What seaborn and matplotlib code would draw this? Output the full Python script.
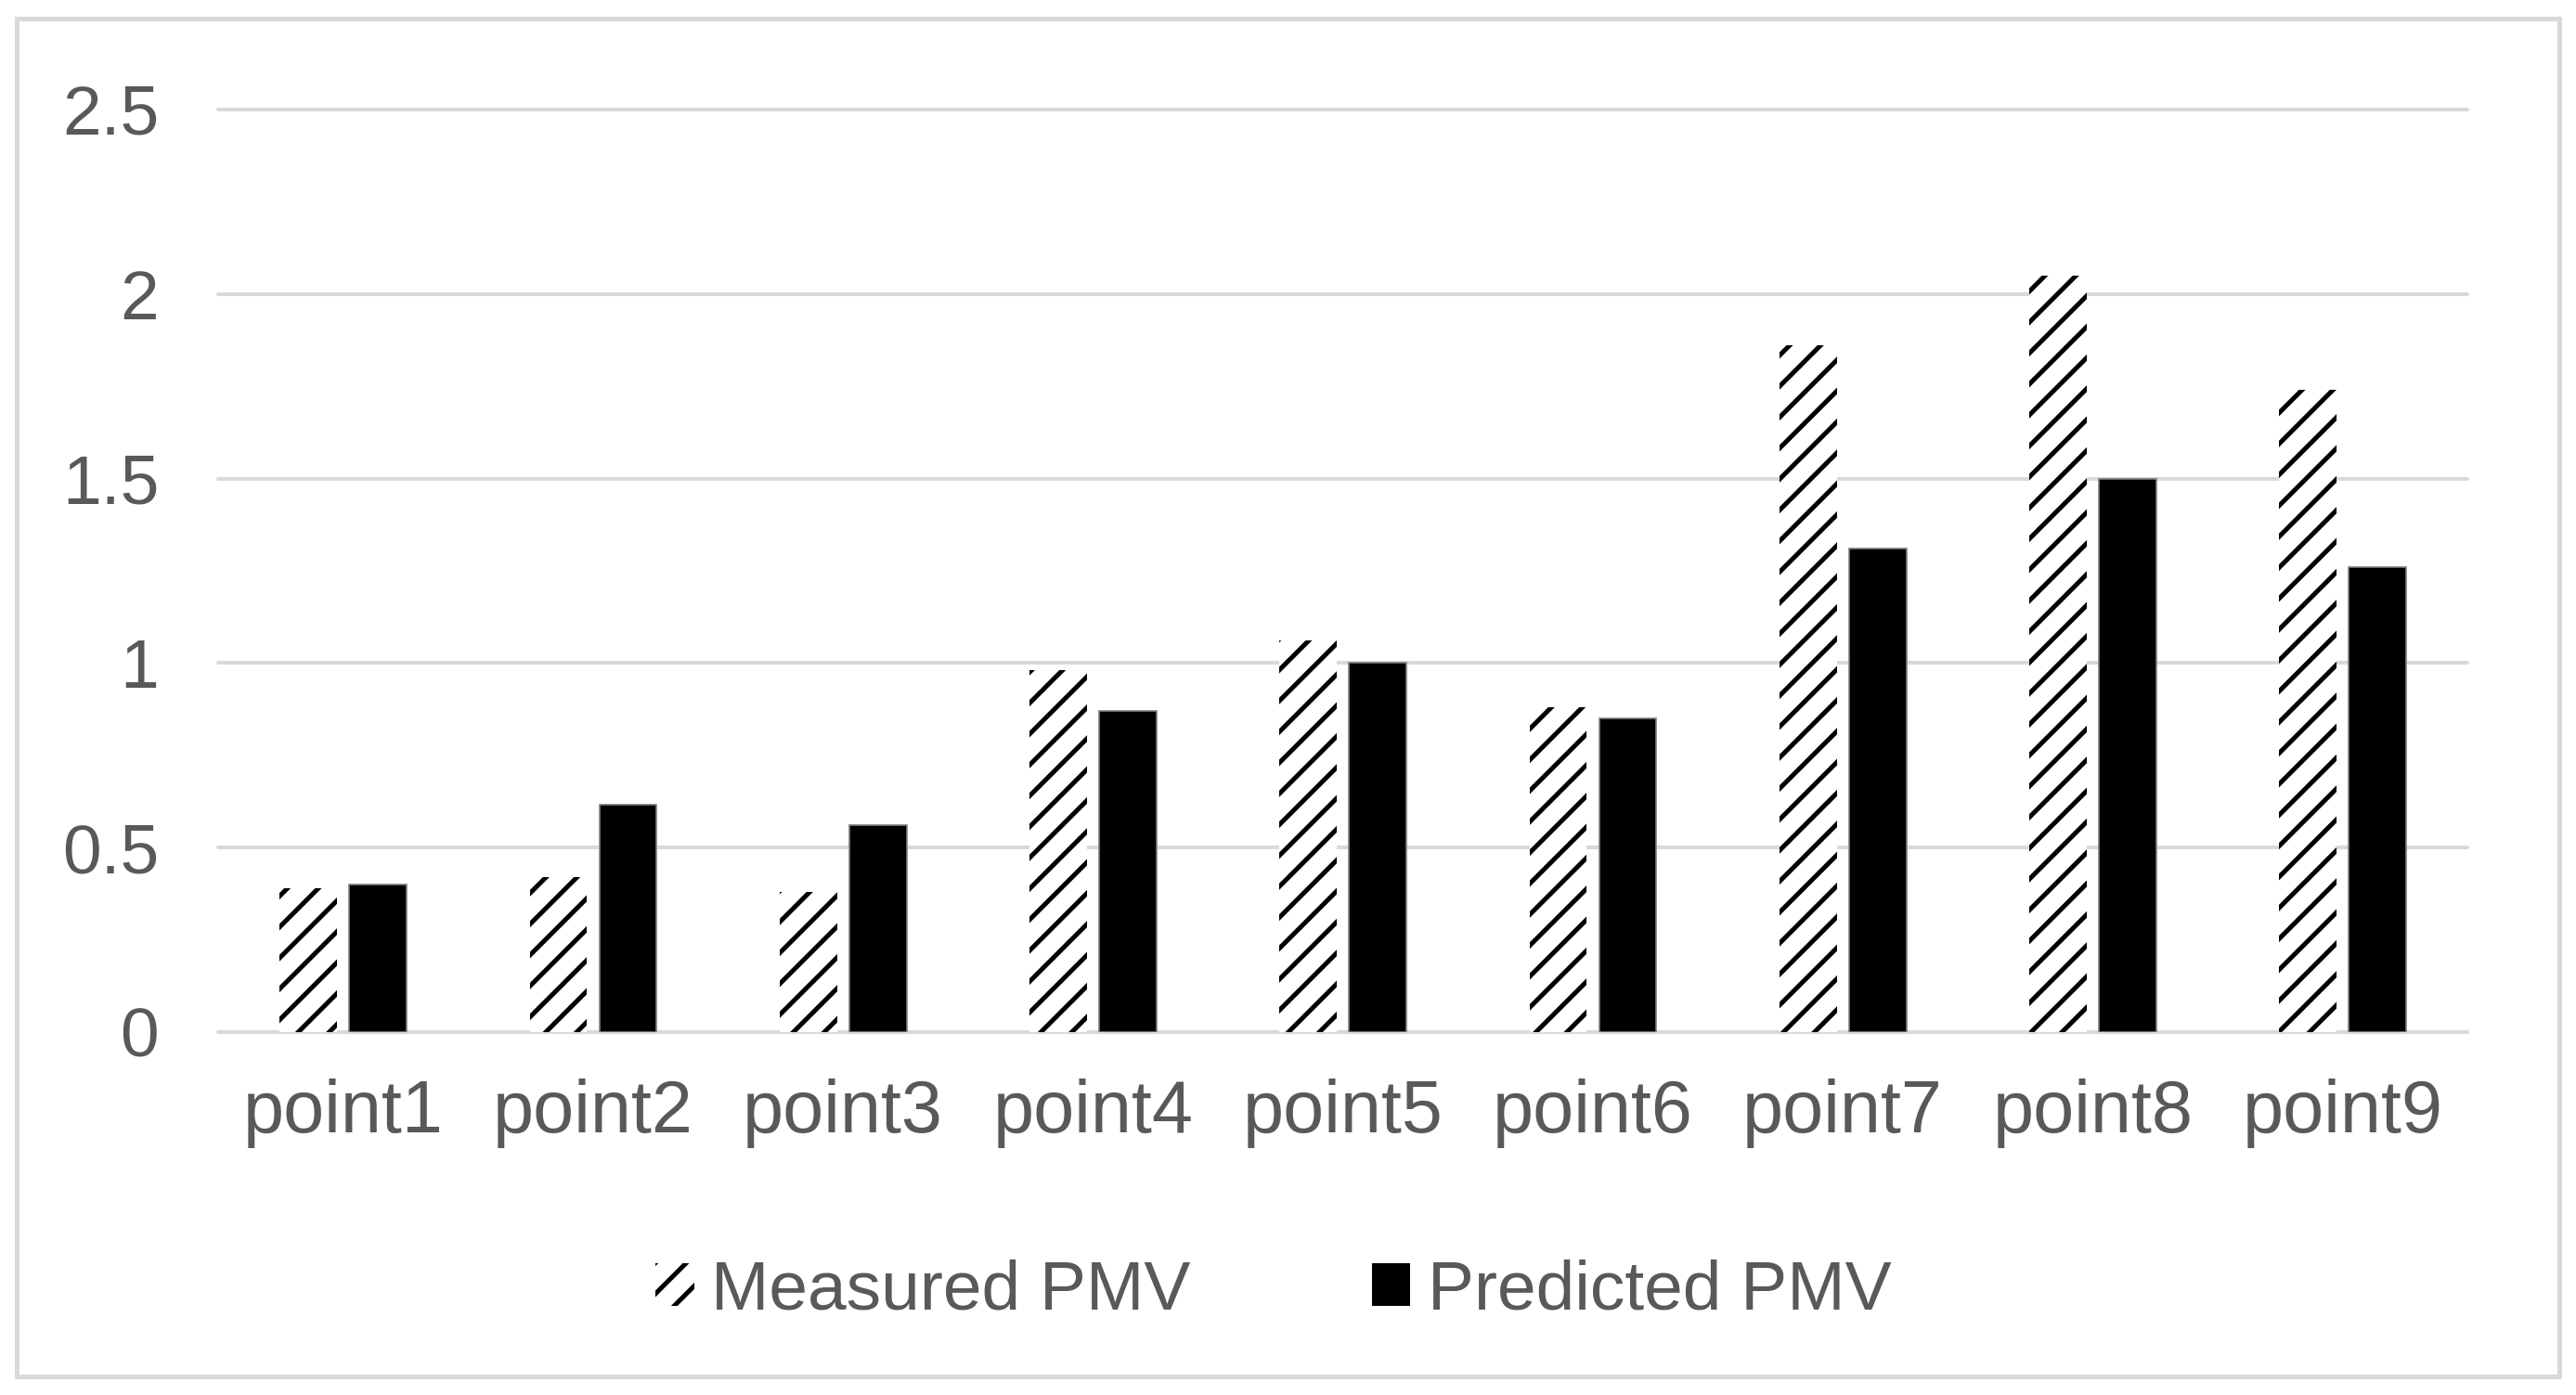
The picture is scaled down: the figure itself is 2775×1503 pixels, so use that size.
import matplotlib
matplotlib.use("Agg")
import matplotlib.pyplot as plt
from matplotlib.patches import Patch, Rectangle
import seaborn as sns
import pandas as pd

categories = ["point1", "point2", "point3", "point4", "point5", "point6", "point7", "point8", "point9"]
measured_pmv = [0.39, 0.42, 0.38, 0.98, 1.06, 0.88, 1.86, 2.05, 1.74]
predicted_pmv = [0.40, 0.615, 0.56, 0.87, 1.00, 0.85, 1.31, 1.50, 1.26]
series_names = ["Measured PMV", "Predicted PMV"]
y_ticks = [0, 0.5, 1, 1.5, 2, 2.5]
y_tick_labels = ["0", "0.5", "1", "1.5", "2", "2.5"]

sns.set_theme(style="white")
plt.rcParams["font.family"] = ["Liberation Sans", "DejaVu Sans"]
plt.rcParams["hatch.linewidth"] = 1.8
plt.rcParams["hatch.color"] = "black"

df = pd.DataFrame({
    "point": categories * 2,
    "series": [series_names[0]] * len(categories) + [series_names[1]] * len(categories),
    "value": measured_pmv + predicted_pmv,
})

fig = plt.figure(figsize=(13.875, 7.515), dpi=200)
ax = fig.add_axes([0.0847, 0.2602, 0.8733, 0.6613])

sns.barplot(data=df, x="point", y="value", hue="series", order=categories,
            hue_order=series_names, palette=["white", "black"],
            width=0.557, gap=0.175, errorbar=None, legend=False, ax=ax,
            saturation=1)

for bar in ax.containers[0]:
    bar.set_facecolor("white")
    bar.set_edgecolor("black")
    bar.set_hatch("//")
    bar.set_linewidth(0)
for bar in ax.containers[1]:
    bar.set_facecolor("black")
    bar.set_edgecolor("#7f7f7f")
    bar.set_linewidth(0.6)

grid_color = "#d9d9d9"
text_color = "#595959"
ax.set_xlim(-0.5, len(categories) - 0.5)
ax.set_ylim(0, 2.5)
ax.set_yticks(y_ticks)
ax.set_yticklabels(y_tick_labels)
ax.set_axisbelow(True)
ax.yaxis.grid(True, color=grid_color, linewidth=1.45)
for gl in ax.get_ygridlines():
    gl.set_clip_on(False)
ax.xaxis.grid(False)
for s in ax.spines.values():
    s.set_visible(False)
ax.set_xlabel("")
ax.set_ylabel("")
ax.tick_params(axis="y", length=0, pad=23, labelsize=27, labelcolor=text_color)
ax.tick_params(axis="x", length=0, pad=18, labelsize=28.5, labelcolor=text_color)

handles = [
    Patch(facecolor="white", edgecolor="black", hatch="//", linewidth=0, label=series_names[0]),
    Patch(facecolor="black", edgecolor="black", linewidth=0, label=series_names[1]),
]
leg = fig.legend(handles=handles, loc="center", bbox_to_anchor=(0.4944, 0.0745), ncol=2,
                 frameon=False, fontsize=27, handlelength=0.55, handleheight=0.55,
                 handletextpad=0.25, columnspacing=2.6)
for t in leg.get_texts():
    t.set_color(text_color)

fig.patches.append(Rectangle((0.0065, 0.013), 0.987, 0.974, transform=fig.transFigure,
                             fill=False, edgecolor=grid_color, linewidth=1.8))

fig.savefig("out.png", dpi=200, facecolor="white")
